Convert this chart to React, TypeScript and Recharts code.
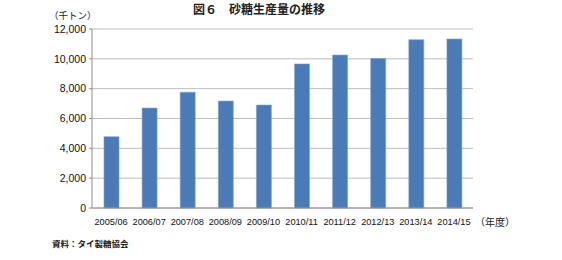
import { BarChart, Bar, XAxis, YAxis, CartesianGrid } from "recharts";

const seasons = [
  "2005/06",
  "2006/07",
  "2007/08",
  "2008/09",
  "2009/10",
  "2010/11",
  "2011/12",
  "2012/13",
  "2013/14",
  "2014/15",
];
const production = [4780, 6700, 7760, 7170, 6900, 9660, 10250, 10020, 11280, 11330];
const yTicks = [0, 2000, 4000, 6000, 8000, 10000, 12000];
const boundaryTicks = [0, 1, 2, 3, 4, 5, 6, 7, 8, 9, 10];

const data = seasons.map((s, i) => ({ season: s, value: production[i] }));

const numFont = "'Liberation Sans', Arial, sans-serif";
const jpFont = "'Noto Sans CJK JP', sans-serif";

const App = () => {
  return (
    <div
      style={{
        position: "absolute",
        left: 0,
        top: 0,
        width: 562,
        height: 260,
        background: "#fff",
      }}
    >
      <div
        style={{
          position: "absolute",
          left: 0,
          width: 518,
          top: 2,
          textAlign: "center",
          fontFamily: jpFont,
          fontWeight: 700,
          fontSize: 12,
          color: "#222",
          lineHeight: "18px",
          marginTop: -2,
          paddingTop: 0,
        }}
      >
        図６　砂糖生産量の推移
      </div>
      <div
        style={{
          position: "absolute",
          left: 49,
          top: 8,
          fontFamily: jpFont,
          fontSize: 9.5,
          color: "#222",
          lineHeight: "14px",
        }}
      >
        （千トン）
      </div>
      <BarChart
        width={562}
        height={260}
        data={data}
        margin={{ top: 29, right: 89, left: 30, bottom: 22 }}
      >
        <CartesianGrid vertical={false} stroke="#bdbdbd" strokeWidth={1} />
        <XAxis
          xAxisId="bounds"
          type="number"
          domain={[0, 10]}
          ticks={boundaryTicks}
          tick={false}
          axisLine={false}
          tickLine={{ stroke: "#8c8c8c" }}
          tickSize={4}
          height={0}
        />
        <XAxis
          dataKey="season"
          axisLine={{ stroke: "#8c8c8c" }}
          tickLine={false}
          interval={0}
          height={30}
          tickSize={5}
          tickMargin={5}
          tick={{ fontSize: 9.2, fill: "#111", fontFamily: numFont }}
        />
        <YAxis
          width={62}
          domain={[0, 12000]}
          ticks={yTicks}
          interval={0}
          axisLine={{ stroke: "#8c8c8c" }}
          tickLine={{ stroke: "#8c8c8c" }}
          tickSize={3}
          tickMargin={3}
          tickFormatter={(v: number) => v.toLocaleString("en-US")}
          tick={{ fontSize: 10.5, fill: "#111", fontFamily: numFont }}
        />
        <Bar
          dataKey="value"
          fill="#4a7bb7"
          stroke="#7fa3cf"
          strokeWidth={0.6}
          barSize={15}
          isAnimationActive={false}
        />
      </BarChart>
      <div
        style={{
          position: "absolute",
          left: 475,
          top: 215,
          fontFamily: jpFont,
          fontSize: 10,
          color: "#222",
          lineHeight: "14px",
        }}
      >
        （年度）
      </div>
      <div
        style={{
          position: "absolute",
          left: 52,
          top: 237,
          fontFamily: jpFont,
          fontWeight: 700,
          fontSize: 8.5,
          color: "#222",
          lineHeight: "12px",
        }}
      >
        資料：タイ製糖協会
      </div>
    </div>
  );
};

export default App;
